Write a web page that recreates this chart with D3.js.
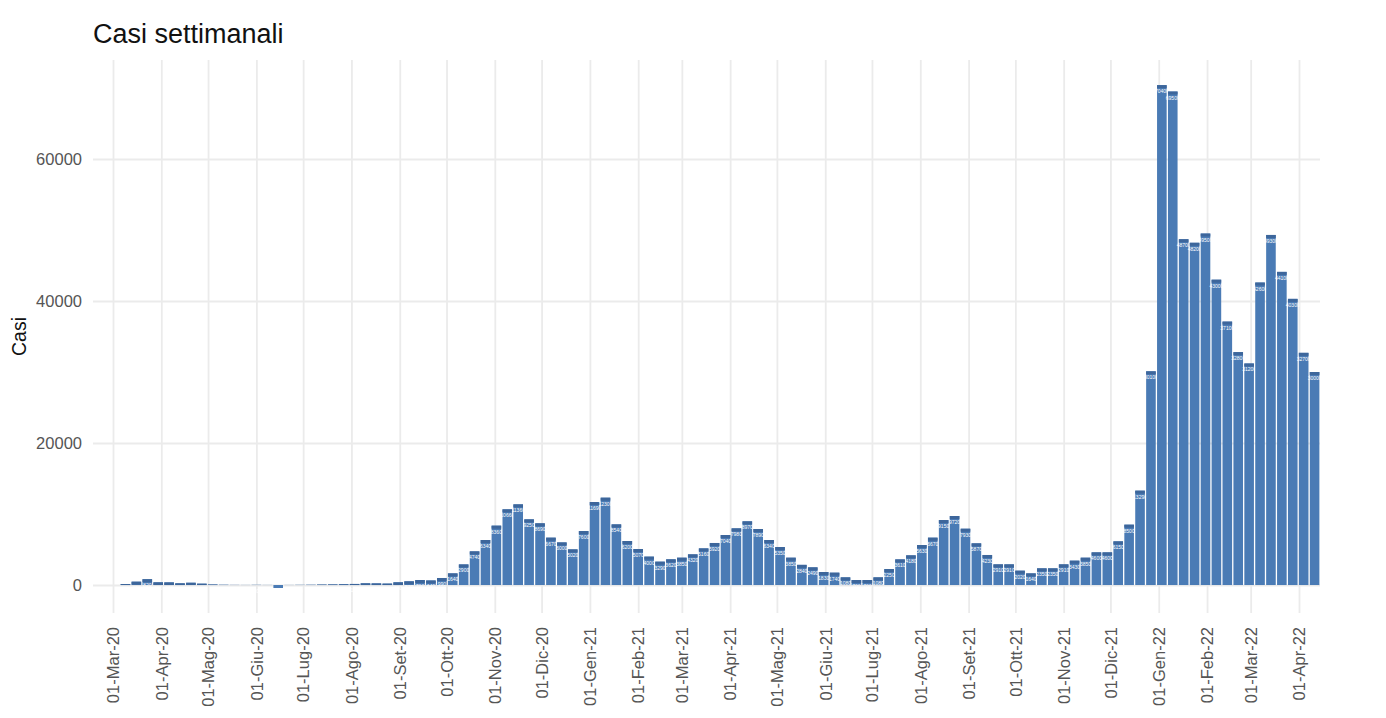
<!DOCTYPE html>
<html>
<head>
    <meta charset="utf-8"/>
    <title>Casi settimanali</title>
    <style>
        body {
            margin: 0;
            background-color: #fff;
            font-family: 'Liberation Sans', Arial, Helvetica, sans-serif;
        }

        svg {
            display: block;
        }

        .grid line {
            stroke: #ebebeb;
            stroke-width: 1.8px;
        }

        .grid .domain {
            display: none;
        }

        .grid text {
            fill: #555;
            font-size: 16.5px;
            font-family: 'Liberation Sans', Arial, Helvetica, sans-serif;
        }

        .bar {
            fill: #4a7bb5;
        }

        .bar-cap {
            fill: #3d669b;
        }

        .bar-label {
            fill: #fff;
            font-size: 5px;
            text-anchor: middle;
        }

        .title {
            font-size: 27px;
            fill: #111;
        }

        .y-title {
            font-size: 19.5px;
            fill: #111;
        }
    </style>
    <script src="https://cdnjs.cloudflare.com/ajax/libs/d3/7.8.5/d3.min.js"></script>
</head>
<body>
<svg id="chart" width="1386" height="718"></svg>
<script>

// weekly totals, first bar is the week of 09-Mar-2020
const firstWeek = '2020-03-09';
const weeklyCases = [
    140, 470, 820, 380, 370, 240, 320, 190, 70, 30,
    15, 10, 20, 10, -420, 10, 20, 30, 60, 80,
    110, 150, 240, 230, 200, 380, 520, 700, 640, 990,
    1640, 2900, 4740, 6340, 8360, 10660, 11360, 9250, 8690, 6670,
    6000, 5020, 7600, 11690, 12300, 8540, 6200, 5070, 4000, 3290,
    3620, 3850, 4320, 5160, 5920, 7040, 7980, 8970, 7890, 6340,
    5350, 3850, 2840, 2490, 1830, 1740, 1080, 700, 700, 1080,
    2250, 3610, 4180, 5630, 6670, 9150, 9720, 7930, 5870, 4230,
    2910, 2910, 2020, 1640, 2350, 2350, 2910, 3430, 3850, 4600,
    4600, 6150, 8500, 13290, 30100, 70400, 69500, 48700, 48200, 49500,
    43000, 37100, 32800, 31200, 42600, 49300, 44100, 40300, 32700, 30000
];

const yTicks = [0, 20000, 40000, 60000];
const monthNames = ['Gen', 'Feb', 'Mar', 'Apr', 'Mag', 'Giu', 'Lug', 'Ago', 'Set', 'Ott', 'Nov', 'Dic'];
const firstTick = '2020-03-01';
const lastTick = '2022-04-01';

const svg = d3.select('#chart');

const panel = { left: 93, right: 1320, top: 60, bottom: 613 };

const parse = d3.utcParse('%Y-%m-%d');
const start = parse(firstWeek);

const data = weeklyCases.map((v, i) => ({ date: d3.utcDay.offset(start, i * 7), value: v }));

const x = d3.scaleUtc()
    .domain([parse(firstTick), parse(lastTick)])
    .range([113, 1299]);

const y = d3.scaleLinear()
    .domain([-3940, 73940])
    .range([panel.bottom, panel.top]);

const monthTicks = d3.utcMonth.range(parse(firstTick), d3.utcDay.offset(parse(lastTick), 1));
const fmtTick = d => '01-' + monthNames[d.getUTCMonth()] + '-' + String(d.getUTCFullYear()).slice(2);

// vertical grid + rotated month labels
svg.append('g')
    .attr('class', 'grid x-grid')
    .attr('transform', `translate(0,${panel.bottom})`)
    .call(d3.axisBottom(x)
        .tickValues(monthTicks)
        .tickFormat(fmtTick)
        .tickSize(-(panel.bottom - panel.top)))
    .call(g => g.attr('font-size', null).attr('font-family', null))
    .selectAll('text')
        .attr('transform', 'rotate(-90)')
        .attr('x', -14)
        .attr('y', 0)
        .attr('dy', '0.35em')
        .style('text-anchor', 'end');

// horizontal grid + value labels
svg.append('g')
    .attr('class', 'grid y-grid')
    .attr('transform', `translate(${panel.left},0)`)
    .call(d3.axisLeft(y)
        .tickValues(yTicks)
        .tickFormat(d3.format('d'))
        .tickSize(-(panel.right - panel.left))
        .tickPadding(11))
    .call(g => g.attr('font-size', null).attr('font-family', null));

const dayW = x(d3.utcDay.offset(parse(firstTick), 1)) - x(parse(firstTick));
const barW = dayW * 7 * 0.88;

const bars = svg.append('g').selectAll('g')
    .data(data)
    .enter().append('g');

bars.append('rect')
    .attr('class', 'bar')
    .attr('x', d => x(d.date) - barW / 2)
    .attr('y', d => y(Math.max(0, d.value)))
    .attr('width', barW)
    .attr('height', d => Math.abs(y(d.value) - y(0)));

bars.filter(d => d.value > 0)
    .append('rect')
    .attr('class', 'bar-cap')
    .attr('x', d => x(d.date) - barW / 2)
    .attr('y', d => y(d.value))
    .attr('width', barW)
    .attr('height', d => Math.min(3, y(0) - y(d.value)));

bars.filter(d => d.value > 0)
    .append('text')
    .attr('class', 'bar-label')
    .attr('x', d => x(d.date))
    .attr('y', d => y(d.value) + 8)
    .text(d => d.value);

svg.append('text')
    .attr('class', 'title')
    .attr('x', 93)
    .attr('y', 43)
    .text('Casi settimanali');

svg.append('text')
    .attr('class', 'y-title')
    .attr('transform', `translate(26,${(panel.top + panel.bottom) / 2}) rotate(-90)`)
    .attr('text-anchor', 'middle')
    .text('Casi');

</script>
</body>
</html>
